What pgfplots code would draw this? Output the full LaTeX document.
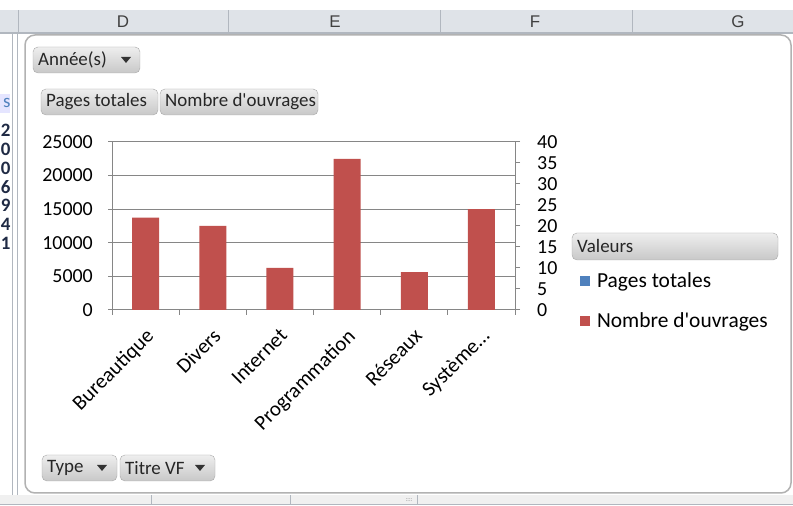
\documentclass[border=0pt]{standalone}
\usepackage{fontspec}
\setmainfont{Carlito}
\newfontfamily\hdrfont{Liberation Sans}
\usepackage{pgfplots}
\pgfplotsset{compat=1.18}

\definecolor{xlred}{HTML}{C0504D}
\definecolor{xlblue}{HTML}{4F81BD}
\definecolor{xlgrid}{HTML}{868686}
\definecolor{hdrbg}{HTML}{DFE3E8}
\definecolor{hdrline}{HTML}{B1B7BF}
\definecolor{btntop}{HTML}{EEEEEE}
\definecolor{btnbot}{HTML}{C8C8C8}
\definecolor{btnline}{HTML}{A8A8A8}
\definecolor{rowtxt}{HTML}{1F2A44}

\newcommand\btnfont{\fontsize{19}{20}\selectfont\color{black!85}}
% button: x1 y1 x2 y2 text
\newcommand\btn[5]{%
  \shade[top color=btntop,bottom color=btnbot,draw=btnline,rounded corners=5bp] (#1,#2) rectangle (#3,#4);
  \node[anchor=west,inner sep=0,font=\btnfont] at (#1+5,{(#2+#4)/2}) {#5};}
% dropdown arrow centred at x y
\newcommand\tri[2]{\fill[black!80] (#1-5,#2+3) -- (#1+5,#2+3) -- (#1,#2-3) -- cycle;}

\begin{document}
\begin{tikzpicture}[x=1bp,y=1bp]
\useasboundingbox (0,0) rectangle (793,506);
\fill[white] (0,0) rectangle (793,506);

% column headers
\fill[hdrbg] (0,473) rectangle (793,496);
\draw[hdrline,line width=1.2bp] (0,473) -- (793,473);
\foreach \x in {18,228,440,632} \draw[hdrline] (\x,473) -- (\x,496);
\foreach \x/\l in {123/D,335/E,535/F,738/G}
  \node[font=\hdrfont\fontsize{17}{18}\selectfont,text=black!75] at (\x,484) {\l};

% row header fragments on the left
\draw[hdrline] (12,473) -- (12,8);
\draw[hdrline] (17,473) -- (17,8);
\begin{scope}
\clip (0,0) rectangle (10,473);
\fill[blue!10] (0,393) rectangle (10,412);
\node[anchor=east,font=\fontsize{19}{20}\selectfont,text=xlblue] at (14,403) {s};
\foreach \y/\d in {376/2,357/0,338/0,319/6,301/9,282/4,263/1}
  \node[anchor=east,font=\bfseries\fontsize{19}{20}\selectfont,text=rowtxt] at (14,\y) {\d};
\end{scope}

% bottom band
\fill[black!6] (0,2) rectangle (793,11);
\draw[hdrline] (0,2) -- (793,2);
\foreach \x in {151,290,417} \draw[hdrline] (\x,2) -- (\x,11);
\node[font=\fontsize{6}{6}\selectfont,text=black!50] at (409,6) {::::};

% chart area
\draw[black!30,line width=1.5bp,fill=white,rounded corners=10bp] (25,13) rectangle (791,471);

% field buttons
\btn{33}{433}{140}{459}{Année(s)}\tri{126}{446}
\btn{41}{391}{158}{417}{Pages totales}
\btn{160}{391}{318}{417}{Nombre d\textquotesingle ouvrages}
\btn{572}{246}{778}{273}{Valeurs}
\btn{42}{25}{117}{51}{Type}\tri{102}{38}
\btn{120}{25}{215}{51}{Titre VF}\tri{200}{38}

% primary axis (Pages totales)
\begin{axis}[
  at={(112bp,196bp)}, anchor=south west, scale only axis,
  width=403bp, height=168bp,
  xmin=-0.5, xmax=5.5, ymin=0, ymax=25000,
  xtick={0,...,5},
  xticklabels={Bureautique,Divers,Internet,Programmation,Réseaux,Système…},
  minor xtick={-0.5,0.5,...,5.5},
  ytick={0,5000,...,25000},
  scaled y ticks=false,
  xtick pos=bottom, ytick pos=left,
  tick align=outside,
  major tick length=4bp, minor tick length=5bp,
  major x tick style={draw=none},
  minor x tick style={draw=xlgrid,line width=1bp},
  ytick style={draw=xlgrid,line width=1bp},
  ymajorgrids, grid style={xlgrid,line width=1bp},
  axis line style={xlgrid,line width=1bp},
  /pgf/number format/assume math mode=true,
  /pgf/number format/1000 sep={},
  ticklabel style={font=\fontsize{20}{22}\selectfont},
  xticklabel style={rotate=45,anchor=north east,inner sep=0pt,
    font=\fontsize{21}{22}\selectfont,xshift=-10bp,yshift=-8.5bp},
  yticklabel style={inner sep=0pt,xshift=-15bp},
]
\end{axis}

% secondary axis (Nombre d'ouvrages)
\begin{axis}[
  at={(112bp,196bp)}, anchor=south west, scale only axis,
  width=403bp, height=168bp,
  xmin=-0.5, xmax=5.5, ymin=0, ymax=40,
  axis x line=none, axis y line*=right,
  ytick={0,5,...,40},
  tick align=outside, major tick length=5bp,
  ytick style={draw=xlgrid,line width=1bp},
  axis line style={xlgrid,line width=1bp},
  /pgf/number format/assume math mode=true,
  ticklabel style={font=\fontsize{20}{22}\selectfont},
  yticklabel style={inner sep=0pt,xshift=17bp},
  legend image code/.code={\fill[#1] (0bp,-5bp) rectangle (10bp,5bp);},
  legend cell align=left,
  legend style={at={(1.161,0.235)}, anchor=north west, draw=none, fill=none,
    inner sep=0, row sep=20bp, font=\fontsize{21.5}{23}\selectfont,
    nodes={inner xsep=7bp}},
]
\addlegendimage{fill=xlblue,draw=none}
\addlegendentry{Pages totales}
\addplot[ybar, bar width=27bp, fill=xlred, draw=none]
  coordinates {(0,22) (1,20) (2,10) (3,36) (4,9) (5,24)};
\addlegendentry{Nombre d\textquotesingle ouvrages}
\end{axis}
\end{tikzpicture}
\end{document}
